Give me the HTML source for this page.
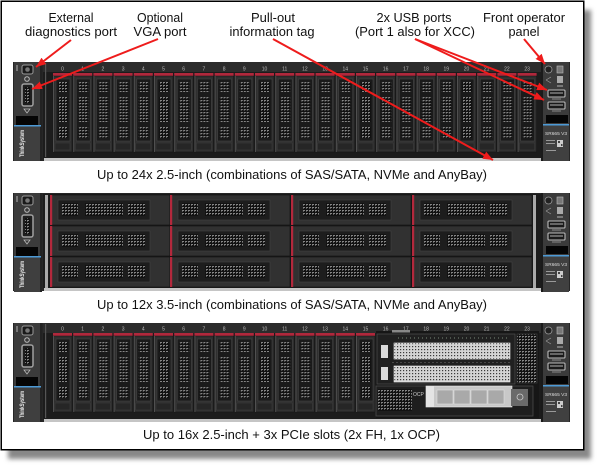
<!DOCTYPE html>
<html><head><meta charset="utf-8"><style>
html,body{margin:0;padding:0;background:#fff;width:600px;height:466px;overflow:hidden}
svg{display:block}
</style></head><body>
<svg width="600" height="466" viewBox="0 0 600 466" xmlns="http://www.w3.org/2000/svg" xmlns:xlink="http://www.w3.org/1999/xlink" font-family="'Liberation Sans', Arial, sans-serif">
<defs>
  <filter id="sh" x="-5%" y="-5%" width="110%" height="110%"><feGaussianBlur stdDeviation="2.5"/></filter>
  <pattern id="m" width="3" height="3" patternUnits="userSpaceOnUse">
    <rect width="3" height="3" fill="#121212"/><rect width="2" height="1" fill="#858585"/><rect y="1" width="1" height="1" fill="#5c5c5c"/>
  </pattern>
  <pattern id="ml" width="3" height="3" patternUnits="userSpaceOnUse">
    <rect width="3" height="3" fill="#d4d4d4"/><rect x="1" y="1" width="1.2" height="1.2" fill="#3a3a3a"/>
  </pattern>
  <marker id="ah" viewBox="0 0 10 10" refX="10" refY="5" markerWidth="10" markerHeight="8" markerUnits="userSpaceOnUse" orient="auto" preserveAspectRatio="none">
    <path d="M0,0 L10,5 L0,10 z" fill="#ee1c1c"/>
  </marker>
  <g id="d25">
    <rect x="0" y="0" width="19" height="3" fill="#b0283c"/>
    <rect x="0" y="3" width="19" height="76" fill="#2f2f2f" stroke="#151515" stroke-width="0.5"/>
    <rect x="0" y="3" width="1" height="76" fill="#505050"/>
    <rect x="3" y="6" width="14" height="62" fill="#1a1a1a" stroke="#454545" stroke-width="0.6"/>
    <rect x="5" y="9" width="10" height="10" fill="url(#m)"/>
    <rect x="5" y="24" width="10" height="25" fill="url(#m)"/>
    <rect x="5" y="54" width="10" height="11" fill="url(#m)"/>
    <rect x="2" y="70" width="15" height="7" fill="#262626" stroke="#3f3f3f" stroke-width="0.5"/>
  </g>
  <g id="d35">
    <rect width="120" height="30" fill="#313131" stroke="#111" stroke-width="0.6"/>
    <rect width="2.2" height="30" fill="#b3283c"/>
    <rect x="8" y="5" width="92" height="20" fill="#1d1d1d" stroke="#444" stroke-width="0.6"/>
    <rect x="12" y="8" width="16" height="13" fill="url(#m)"/>
    <rect x="35" y="8" width="38" height="13" fill="url(#m)"/>
    <rect x="78" y="8" width="17" height="13" fill="url(#m)"/>
  </g>
  <g id="lp">
    <rect x="14" y="0" width="27" height="99" fill="#3b3b3b"/>
    <rect x="40" y="0" width="2" height="99" fill="#222"/>
    <rect x="16" y="3" width="2" height="6" fill="#777"/>
    <rect x="22" y="3" width="11" height="9" rx="2" fill="#1a1a1a" stroke="#9a9a9a" stroke-width="1"/>
    <circle cx="27.5" cy="7.5" r="2.3" fill="#777"/>
    <circle cx="27" cy="17" r="2.3" fill="none" stroke="#bbb" stroke-width="1"/>
    <rect x="22" y="22" width="11" height="22" rx="2" fill="#1e1e1e" stroke="#a0a0a0" stroke-width="1.5"/>
    <rect x="25" y="25" width="5" height="16" fill="url(#m)"/>
    <path d="M24 47 L30 47 L27 51 Z" fill="none" stroke="#bbb" stroke-width="0.8"/>
    <rect x="16" y="54" width="22" height="9" fill="#050505"/>
    <rect x="14" y="63" width="27" height="1.5" fill="#4d9ad6"/>
    <rect x="14" y="64.5" width="26" height="34.5" fill="#3f3f3f"/>
  </g>
  <g id="rp">
    <rect x="541" y="0" width="2" height="99" fill="#1a1a1a"/>
    <rect x="543" y="0" width="26" height="99" fill="#3b3b3b"/>
    <circle cx="548.5" cy="7.5" r="3.5" fill="#222" stroke="#999" stroke-width="0.8"/>
    <rect x="557" y="4" width="6" height="7" fill="#777" stroke="#bbb" stroke-width="0.6"/>
    <path d="M546 18 L551 15 M546 18 L551 21" stroke="#999" stroke-width="0.7"/>
    <rect x="557" y="14" width="6" height="7" fill="#aaa"/>
    <rect x="557" y="23" width="6" height="2" fill="#777"/>
    <rect x="548" y="28" width="17" height="7" rx="1" fill="#1a1a1a" stroke="#bbb" stroke-width="1.1"/>
    <rect x="550" y="30" width="13" height="2" fill="#666"/>
    <rect x="552" y="36.5" width="9" height="1" fill="#888"/>
    <rect x="548" y="40" width="17" height="7" rx="1" fill="#1a1a1a" stroke="#bbb" stroke-width="1.1"/>
    <rect x="550" y="42" width="13" height="2" fill="#666"/>
    <rect x="552" y="48.5" width="9" height="1" fill="#888"/>
    <rect x="546" y="53" width="22" height="8" fill="#050505"/>
    <rect x="543" y="62" width="26" height="1.5" fill="#4d9ad6"/>
    <rect x="543" y="63.5" width="26" height="35.5" fill="#404040"/>
    <rect x="546" y="78" width="9" height="1" fill="#999"/>
    <rect x="546" y="81" width="9" height="1" fill="#999"/>
    <rect x="557" y="78" width="6" height="7" fill="#ccc"/>
    <rect x="558" y="79" width="2" height="2" fill="#444"/>
    <rect x="561" y="82" width="1.5" height="2" fill="#444"/>
    <rect x="546" y="88" width="10" height="1" fill="#999"/>
  </g>
</defs>

<!-- frame -->
<rect x="8" y="10" width="583" height="449" fill="#888" filter="url(#sh)"/>
<rect x="1.25" y="1.25" width="582.5" height="448.5" fill="#fff" stroke="#000" stroke-width="1.5"/>

<!-- labels -->
<g font-size="13" fill="#111" text-anchor="middle">
  <text x="71" y="22" textLength="45" lengthAdjust="spacingAndGlyphs">External</text>
  <text x="71" y="36" textLength="92" lengthAdjust="spacingAndGlyphs">diagnostics port</text>
  <text x="160" y="22" textLength="46" lengthAdjust="spacingAndGlyphs">Optional</text>
  <text x="160" y="36" textLength="53" lengthAdjust="spacingAndGlyphs">VGA port</text>
  <text x="273" y="22" textLength="44" lengthAdjust="spacingAndGlyphs">Pull-out</text>
  <text x="272" y="36" textLength="85" lengthAdjust="spacingAndGlyphs">information tag</text>
  <text x="414" y="22" textLength="75" lengthAdjust="spacingAndGlyphs">2x USB ports</text>
  <text x="415" y="36" textLength="120" lengthAdjust="spacingAndGlyphs">(Port 1 also for XCC)</text>
  <text x="524" y="22" textLength="82" lengthAdjust="spacingAndGlyphs">Front operator</text>
  <text x="524" y="36" textLength="31" lengthAdjust="spacingAndGlyphs">panel</text>
  <text x="292" y="179" textLength="390" lengthAdjust="spacingAndGlyphs">Up to 24x 2.5-inch (combinations of SAS/SATA, NVMe and AnyBay)</text>
  <text x="292" y="309" textLength="390" lengthAdjust="spacingAndGlyphs">Up to 12x 3.5-inch (combinations of SAS/SATA, NVMe and AnyBay)</text>
  <text x="291.5" y="439" textLength="297" lengthAdjust="spacingAndGlyphs">Up to 16x 2.5-inch + 3x PCIe slots (2x FH, 1x OCP)</text>
</g>

<!-- SERVER 1 -->
<g transform="translate(0,62)">
  <rect x="13" y="0" width="557" height="99" fill="#262626"/>
  <rect x="43" y="0" width="498" height="10" fill="#2c2c2c"/>
  <rect x="43" y="10" width="498" height="86" fill="#1c1c1c"/>
  <rect x="45" y="1" width="1.2" height="94" fill="#555"/>
  <rect x="44" y="96" width="497" height="3" fill="#c5c5c5"/>
  <use xlink:href="#lp"/>
  <use xlink:href="#rp"/>
  <use xlink:href="#d25" x="53" y="11"/><use xlink:href="#d25" x="73.2" y="11"/><use xlink:href="#d25" x="93.4" y="11"/><use xlink:href="#d25" x="113.6" y="11"/>
  <use xlink:href="#d25" x="133.8" y="11"/><use xlink:href="#d25" x="154" y="11"/><use xlink:href="#d25" x="174.2" y="11"/><use xlink:href="#d25" x="194.4" y="11"/>
  <use xlink:href="#d25" x="214.6" y="11"/><use xlink:href="#d25" x="234.8" y="11"/><use xlink:href="#d25" x="255" y="11"/><use xlink:href="#d25" x="275.2" y="11"/>
  <use xlink:href="#d25" x="295.4" y="11"/><use xlink:href="#d25" x="315.6" y="11"/><use xlink:href="#d25" x="335.8" y="11"/><use xlink:href="#d25" x="356" y="11"/>
  <use xlink:href="#d25" x="376.2" y="11"/><use xlink:href="#d25" x="396.4" y="11"/><use xlink:href="#d25" x="416.6" y="11"/><use xlink:href="#d25" x="436.8" y="11"/>
  <use xlink:href="#d25" x="457" y="11"/><use xlink:href="#d25" x="477.2" y="11"/><use xlink:href="#d25" x="497.4" y="11"/><use xlink:href="#d25" x="517.6" y="11"/>
  <g font-size="5" fill="#bbb" text-anchor="middle">
    <text x="62.5" y="8.5">0</text><text x="82.7" y="8.5">1</text><text x="102.9" y="8.5">2</text><text x="123.1" y="8.5">3</text>
    <text x="143.3" y="8.5">4</text><text x="163.5" y="8.5">5</text><text x="183.7" y="8.5">6</text><text x="203.9" y="8.5">7</text>
    <text x="224.1" y="8.5">8</text><text x="244.3" y="8.5">9</text><text x="264.5" y="8.5">10</text><text x="284.7" y="8.5">11</text>
    <text x="304.9" y="8.5">12</text><text x="325.1" y="8.5">13</text><text x="345.3" y="8.5">14</text><text x="365.5" y="8.5">15</text>
    <text x="385.7" y="8.5">16</text><text x="405.9" y="8.5">17</text><text x="426.1" y="8.5">18</text><text x="446.3" y="8.5">19</text>
    <text x="466.5" y="8.5">20</text><text x="486.7" y="8.5">21</text><text x="506.9" y="8.5">22</text><text x="527.1" y="8.5">23</text>
  </g>
  <text transform="translate(24,95) rotate(-90)" font-size="6" font-weight="bold" fill="#eee" textLength="27" lengthAdjust="spacingAndGlyphs">ThinkSystem</text>
  <text x="545" y="73" font-size="4.5" fill="#ddd" textLength="22" lengthAdjust="spacingAndGlyphs">SR665 V3</text>
</g>

<!-- SERVER 2 -->
<g transform="translate(0,193)">
  <rect x="13" y="0" width="557" height="98" fill="#262626"/>
  <rect x="43" y="1" width="498" height="94" fill="#1c1c1c"/>
  <rect x="45" y="2" width="3" height="93" fill="#aaa"/>
  <rect x="533" y="2" width="3" height="93" fill="#aaa"/>
  <rect x="44" y="95" width="497" height="3" fill="#c5c5c5"/>
  <use xlink:href="#lp"/>
  <use xlink:href="#rp"/>
  <use xlink:href="#d35" x="50" y="2"/><use xlink:href="#d35" x="170" y="2"/><use xlink:href="#d35" x="291" y="2"/><use xlink:href="#d35" x="412" y="2"/>
  <use xlink:href="#d35" x="50" y="33"/><use xlink:href="#d35" x="170" y="33"/><use xlink:href="#d35" x="291" y="33"/><use xlink:href="#d35" x="412" y="33"/>
  <use xlink:href="#d35" x="50" y="64"/><use xlink:href="#d35" x="170" y="64"/><use xlink:href="#d35" x="291" y="64"/><use xlink:href="#d35" x="412" y="64"/>
  <text transform="translate(24,95) rotate(-90)" font-size="6" font-weight="bold" fill="#eee" textLength="27" lengthAdjust="spacingAndGlyphs">ThinkSystem</text>
  <text x="545" y="73" font-size="4.5" fill="#ddd" textLength="22" lengthAdjust="spacingAndGlyphs">SR665 V3</text>
</g>

<!-- SERVER 3 -->
<g transform="translate(0,323)">
  <rect x="13" y="0" width="557" height="99" fill="#262626"/>
  <rect x="43" y="0" width="498" height="10" fill="#2c2c2c"/>
  <rect x="43" y="10" width="498" height="86" fill="#1c1c1c"/>
  <rect x="45" y="1" width="1.2" height="94" fill="#555"/>
  <rect x="44" y="96" width="497" height="3" fill="#c5c5c5"/>
  <use xlink:href="#lp"/>
  <use xlink:href="#rp"/>
  <use xlink:href="#d25" x="53" y="10"/><use xlink:href="#d25" x="73.2" y="10"/><use xlink:href="#d25" x="93.4" y="10"/><use xlink:href="#d25" x="113.6" y="10"/>
  <use xlink:href="#d25" x="133.8" y="10"/><use xlink:href="#d25" x="154" y="10"/><use xlink:href="#d25" x="174.2" y="10"/><use xlink:href="#d25" x="194.4" y="10"/>
  <use xlink:href="#d25" x="214.6" y="10"/><use xlink:href="#d25" x="234.8" y="10"/><use xlink:href="#d25" x="255" y="10"/><use xlink:href="#d25" x="275.2" y="10"/>
  <use xlink:href="#d25" x="295.4" y="10"/><use xlink:href="#d25" x="315.6" y="10"/><use xlink:href="#d25" x="335.8" y="10"/><use xlink:href="#d25" x="356" y="10"/>
  <g font-size="5" fill="#bbb" text-anchor="middle">
    <text x="62.5" y="7.5">0</text><text x="82.7" y="7.5">1</text><text x="102.9" y="7.5">2</text><text x="123.1" y="7.5">3</text>
    <text x="143.3" y="7.5">4</text><text x="163.5" y="7.5">5</text><text x="183.7" y="7.5">6</text><text x="203.9" y="7.5">7</text>
    <text x="224.1" y="7.5">8</text><text x="244.3" y="7.5">9</text><text x="264.5" y="7.5">10</text><text x="284.7" y="7.5">11</text>
    <text x="304.9" y="7.5">12</text><text x="325.1" y="7.5">13</text><text x="345.3" y="7.5">14</text><text x="365.5" y="7.5">15</text>
    <text x="385.7" y="7.5">16</text><text x="405.9" y="7.5">17</text><text x="426.1" y="7.5">18</text><text x="446.3" y="7.5">19</text>
    <text x="466.5" y="7.5">20</text><text x="486.7" y="7.5">21</text><text x="506.9" y="7.5">22</text><text x="527.1" y="7.5">23</text>
  </g>
  <text transform="translate(24,95) rotate(-90)" font-size="6" font-weight="bold" fill="#eee" textLength="27" lengthAdjust="spacingAndGlyphs">ThinkSystem</text>
  <text x="545" y="73" font-size="4.5" fill="#ddd" textLength="22" lengthAdjust="spacingAndGlyphs">SR665 V3</text>
</g>

<!-- PCIe area server 3 -->
<rect x="376" y="331" width="163" height="87" fill="#161616"/>
<rect x="392" y="330" width="18" height="2.5" fill="#888"/>
<rect x="377" y="334" width="138" height="50" fill="#202020" stroke="#4a4a4a" stroke-width="0.8"/>
<line x1="398" y1="338" x2="510" y2="338" stroke="#7a8a7a" stroke-width="1" stroke-dasharray="1 3"/>
<rect x="381" y="345" width="7" height="13" fill="#d9d9d9"/>
<rect x="394" y="343" width="116" height="16" fill="url(#ml)" stroke="#eee" stroke-width="0.6"/>
<line x1="392" y1="362.5" x2="510" y2="362.5" stroke="#555" stroke-width="0.8" stroke-dasharray="2 2"/>
<rect x="381" y="367" width="7" height="13" fill="#d9d9d9"/>
<rect x="394" y="366" width="116" height="16" fill="url(#ml)" stroke="#eee" stroke-width="0.6"/>
<rect x="517" y="334" width="20" height="49" fill="url(#m)" stroke="#444" stroke-width="0.6"/>
<rect x="376" y="386" width="157" height="30" fill="#1e1e1e" stroke="#4a4a4a" stroke-width="0.8"/>
<rect x="378" y="389" width="34" height="22" fill="url(#m)"/>
<text x="413" y="396" font-size="5" fill="#ccc">OCP</text>
<rect x="426" y="386" width="86" height="21" fill="#c8c8c8" stroke="#eee" stroke-width="0.6"/>
<rect x="426" y="386" width="8" height="21" fill="#e4e4e4"/>
<rect x="437" y="390" width="16" height="14" fill="#a9a9a9" stroke="#e0e0e0" stroke-width="0.6"/>
<rect x="454" y="390" width="16" height="14" fill="#a9a9a9" stroke="#e0e0e0" stroke-width="0.6"/>
<rect x="471" y="390" width="16" height="14" fill="#a9a9a9" stroke="#e0e0e0" stroke-width="0.6"/>
<rect x="488" y="390" width="16" height="14" fill="#a9a9a9" stroke="#e0e0e0" stroke-width="0.6"/>
<rect x="511" y="389" width="17" height="17" fill="#6a6a6a"/>
<circle cx="520" cy="397" r="3" fill="none" stroke="#ccc" stroke-width="0.8"/>

<!-- arrows -->
<g stroke="#ee1c1c" stroke-width="2" fill="none" marker-end="url(#ah)">
  <line x1="71" y1="40" x2="36" y2="67"/>
  <line x1="158" y1="39" x2="32" y2="89"/>
  <line x1="273" y1="39" x2="493" y2="160"/>
  <line x1="415" y1="39" x2="547" y2="90"/>
  <line x1="415" y1="39" x2="544" y2="100"/>
  <line x1="524" y1="39" x2="545" y2="64"/>
</g>
</svg>
</body></html>
